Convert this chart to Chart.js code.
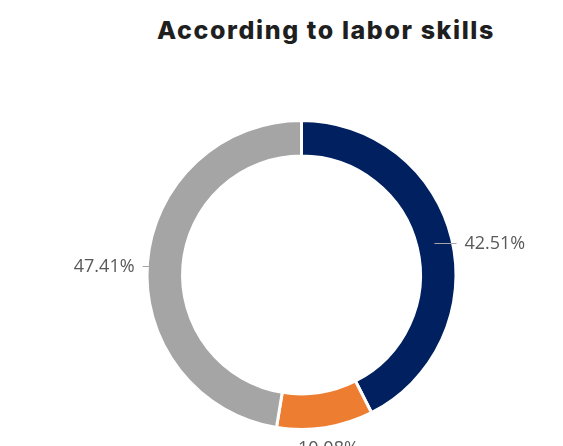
<!DOCTYPE html>
<html lang="en">
<head>
  <meta charset="UTF-8">
  <title>According to labor skills</title>
  <script src="https://cdn.jsdelivr.net/npm/chart.js"></script>
  <style>
    body {
      margin: 0;
      background: #ffffff;
    }
    #wrap {
      position: relative;
      width: 563px;
      height: 446px;
      overflow: hidden;
    }
    #title {
      position: absolute;
      top: 18px;
      left: 326px;
      transform: translateX(-50%);
      white-space: nowrap;
      font-family: Inter, "DejaVu Sans", sans-serif;
      font-weight: 800;
      font-size: 25px;
      line-height: 25px;
      letter-spacing: 1.6px;
      color: #1f1f1f;
    }
    canvas {
      position: absolute;
      top: 0;
      left: 0;
    }
  </style>
</head>
<body>
  <div id="wrap">
    <div id="title">According to labor skills</div>
    <canvas id="skillsChart" width="563" height="446"></canvas>
  </div>

  <script>
    // share of workers in each labor skill group (%)
    const shares = [42.51, 10.08, 47.41];
    const shareLabels = ['42.51%', '10.08%', '47.41%'];
    const sliceColors = ['#002060', '#ED7D31', '#A5A5A5'];

    // percentage labels outside the ring, with a short leader line on the sides
    const outsideLabels = {
      id: 'outsideLabels',
      afterDatasetsDraw(chart) {
        const ctx = chart.ctx;
        const arcs = chart.getDatasetMeta(0).data;
        ctx.save();
        ctx.font = '18px "Open Sans", sans-serif';
        ctx.fillStyle = '#595959';
        ctx.strokeStyle = '#A6A6A6';
        ctx.lineWidth = 1;
        arcs.forEach((arc, i) => {
          const mid = (arc.startAngle + arc.endAngle) / 2;
          const cos = Math.cos(mid);
          const sin = Math.sin(mid);
          const rOut = arc.outerRadius;
          const rMid = (arc.outerRadius + arc.innerRadius) / 2;
          if (Math.abs(cos) > 0.5) {
            // side labels sit a little below the slice midpoint
            const y = Math.round(arc.y + rOut * sin) + 4;
            const x0 = arc.x + rMid * cos;
            const x1 = arc.x + (rOut + 5) * cos;
            ctx.beginPath();
            ctx.moveTo(x0, y + 0.5);
            ctx.lineTo(x1, y + 0.5);
            ctx.stroke();
            ctx.textBaseline = 'middle';
            ctx.textAlign = cos > 0 ? 'left' : 'right';
            ctx.fillText(shareLabels[i], arc.x + (rOut + 13) * cos, y + 1);
          } else {
            ctx.textBaseline = 'middle';
            ctx.textAlign = 'center';
            ctx.fillText(shareLabels[i], arc.x + (rOut + 21) * cos, arc.y + (rOut + 21) * sin);
          }
        });
        ctx.restore();
      }
    };

    const ctx = document.getElementById('skillsChart').getContext('2d');
    new Chart(ctx, {
      type: 'doughnut',
      data: {
        labels: shareLabels,
        datasets: [{
          data: shares,
          backgroundColor: sliceColors,
          borderColor: '#ffffff',
          borderWidth: 3,
          hoverOffset: 0
        }]
      },
      options: {
        responsive: false,
        animation: false,
        cutout: '77%',
        layout: {
          padding: { top: 119, bottom: 15, left: 40, right: 0 }
        },
        plugins: {
          legend: { display: false },
          tooltip: { enabled: false },
          title: { display: false }
        }
      },
      plugins: [outsideLabels]
    });
  </script>
</body>
</html>
